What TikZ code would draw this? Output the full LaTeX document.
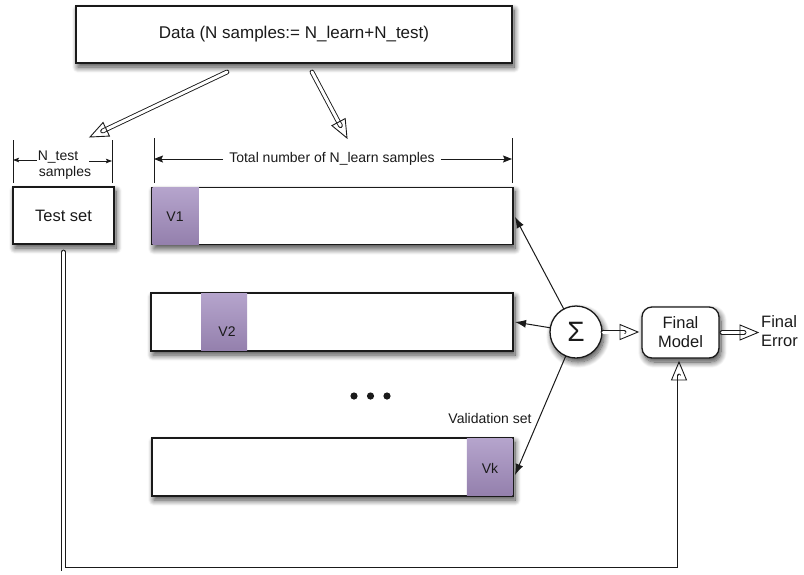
\documentclass[tikz,border=0pt]{standalone}
\usepackage{fontspec}
\setmainfont{Liberation Sans}
\usetikzlibrary{calc,arrows.meta,shadows.blur}

\definecolor{ink}{HTML}{1A1A1A}
\definecolor{vtop}{HTML}{B5A4CC}
\definecolor{vbot}{HTML}{9480AD}

\tikzset{
  shad/.style={blur shadow={shadow xshift=2pt, shadow yshift=-4pt,
      shadow blur radius=6pt, shadow blur steps=12, shadow opacity=75}},
  panel/.style={draw=ink, line width=1.3pt, fill=white, shad,
      inner sep=0pt, outer sep=0pt, text=ink},
  vblock/.style={top color=vtop, bottom color=vbot, draw=none,
      inner sep=0pt, outer sep=0pt},
  small/.style={font=\fontsize{14}{16}\selectfont, text=ink, inner sep=1pt},
  mid/.style={font=\fontsize{16.5}{19}\selectfont, text=ink, align=center},
  dimline/.style={draw=ink, line width=0.9pt},
  dimarr/.style={draw=ink, line width=0.9pt,
      -{Stealth[length=9pt, width=7pt, inset=1.5pt]}},
  dimarrs/.style={draw=ink, line width=0.8pt,
      -{Stealth[length=6pt, width=4.5pt, inset=1pt]}},
  thinarr/.style={draw=ink, line width=1pt,
      -{Latex[length=11pt, width=8pt]}},
  hshaft/.style={draw=ink, line width=0.9pt, double=white,
      double distance=3pt, line cap=round, line join=miter},
  hhead/.style={draw=ink, line width=0.9pt, fill=none, line join=miter},
}

% open triangular head of a hollow arrow: #1 lies behind the tip #2
\newcommand{\hollowhead}[2]{%
  \draw[hhead] ($(#2)!18pt!(#1)!7.5pt!90:(#2)$) -- (#2)
    -- ($(#2)!18pt!(#1)!7.5pt!-90:(#2)$) -- cycle;}

\begin{document}
\begin{tikzpicture}[x=1pt,y=-1pt]
\useasboundingbox (0,0) rectangle (804,574);

% ---- boxes ----
\node[panel, minimum width=436pt, minimum height=57pt] (data) at (294,34.5)
  {\fontsize{17}{20}\selectfont Data (N samples:= N\_learn+N\_test)};
\node[panel, mid, minimum width=101pt, minimum height=57pt] (test) at (63.5,215.5)
  {Test set};
\node[panel, minimum width=361pt, minimum height=57.5pt] (box1) at (332.5,216) {};
\node[panel, minimum width=362pt, minimum height=58pt] (box2) at (332,322) {};
\node[panel, minimum width=361pt, minimum height=58pt] (boxk) at (332.5,467) {};

% ---- validation folds ----
\node[vblock, anchor=west, minimum width=46.3pt, minimum height=56.2pt]
  (v1) at ([xshift=0.65pt]box1.west) {};
\node[vblock, minimum width=46pt, minimum height=56.7pt] (v2) at (224,322) {};
\node[vblock, anchor=east, minimum width=45.4pt, minimum height=56.7pt]
  (vk) at ([xshift=-0.65pt]boxk.east) {};
\node[small] (v1l) at (175,217) {V1};
\node[small] (v2l) at (227,332) {V2};
\node[small] (vkl) at (490,468) {Vk};

% ---- dimension marks ----
\draw[dimline] (13,140) -- (13,183);
\draw[dimline] (112,140) -- (112,183);
\draw[dimline] (154,138) -- (154,183);
\draw[dimline] (512,138) -- (512,183);
\node[small] (ntest) at (58,157) {N\_test};
\node[small] (nsamp) at (65,173) {samples};
\coordinate (ntL) at (13,160);
\coordinate (ntR) at (112,161);
\coordinate (ntR0) at (89,161);
\draw[dimarrs] (ntest.west |- ntL) -- (ntL);
\draw[dimarrs] (ntR0) -- (ntR);
\node[small, inner sep=6pt] (tot) at (332,159) {Total number of N\_learn samples};
\coordinate (tL) at (154,159);
\coordinate (tR) at (512,159);
\draw[dimarr] (tot.west) -- (tL);
\draw[dimarr] (tot.east) -- (tR);

% ---- ellipsis and caption ----
\fill[ink] (354,396) circle (3.6) (370.5,396) circle (3.6) (387,396) circle (3.6);
\node[small] (valid) at (490,418) {Validation set};

% ---- combiner and final model ----
\node[panel, circle, minimum size=52pt] (sigma) at (576,332)
  {\fontsize{28}{30}\selectfont Σ};
\node[panel, mid, rounded corners=10pt, minimum width=77pt, minimum height=51pt]
  (final) at (680.5,332.5) {Final\\Model};
\node[mid, align=left, anchor=west, inner sep=0pt] (err) at (761,331.5) {Final\\Error};

% ---- thin arrows from the combiner ----
\coordinate (a1) at (515,217);
\coordinate (a2) at (515,322);
\coordinate (a3) at (515,475);
\draw[thinarr] (sigma) -- (a1);
\draw[thinarr] (sigma) -- (a2);
\draw[thinarr] (sigma) -- (a3);

% ---- hollow arrows ----
\coordinate (d1) at (227,72);
\coordinate (t1) at (90,137);
\coordinate (d2) at (312,72);
\coordinate (t2) at (347,138);
\draw[hshaft, shorten >=14pt] (d1) -- (t1);
\hollowhead{d1}{t1}
\draw[hshaft, shorten >=14pt] (d2) -- (t2);
\hollowhead{d2}{t2}

\coordinate (s0) at ([xshift=1pt]sigma.east);
\coordinate (fin) at ([xshift=-4pt]final.west |- s0);
\draw[hshaft, shorten >=14pt] (s0) -- (fin);
\hollowhead{s0}{fin}

\coordinate (f0) at ([xshift=3pt]final.east);
\coordinate (eIn) at ([xshift=-3pt]err.west |- f0);
\draw[hshaft, shorten >=14pt] (f0) -- (eIn);
\hollowhead{f0}{eIn}

\coordinate (ts) at ($(test.south)+(0,8)$);
\coordinate (ftip) at ($(final.south)+(-1.5,4)$);
\coordinate (fbelow) at ($(ftip)+(0,40)$);
\draw[hshaft, shorten >=14pt] (ts) -- ++(0,317) -| (ftip);
\hollowhead{fbelow}{ftip}
\end{tikzpicture}
\end{document}
